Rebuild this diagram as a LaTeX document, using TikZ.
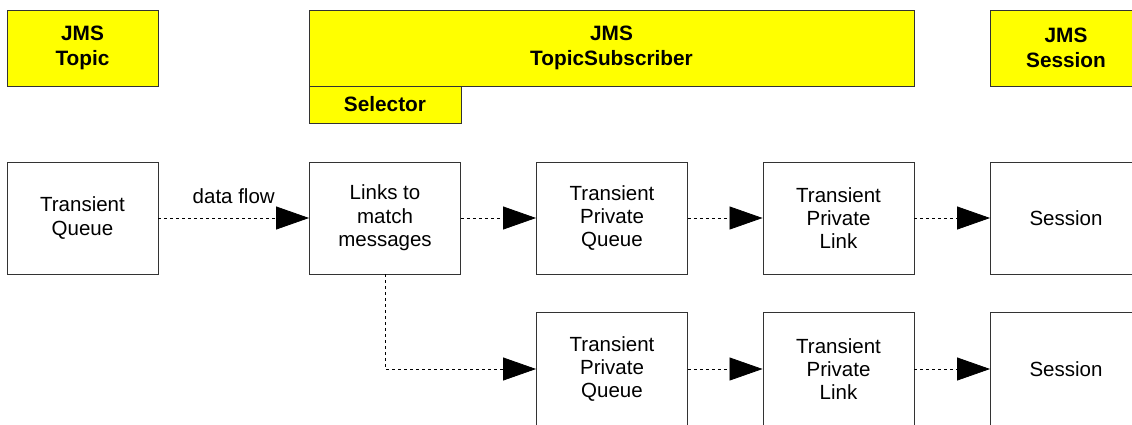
\documentclass[tikz,border=0pt]{standalone}
\usepackage{fontspec}
\setmainfont{Liberation Sans}
\usetikzlibrary{arrows.meta}
\definecolor{hdryellow}{HTML}{FFFF00}
\definecolor{edge}{HTML}{333333}
\tikzset{
  box/.style={draw=edge, line width=0.9pt, fill=white, minimum width=151pt, minimum height=112pt,
    inner sep=0pt, align=center, font=\fontsize{20.5}{23.4}\selectfont},
  hdr/.style={draw=edge, line width=0.9pt, fill=hdryellow, minimum height=76pt,
    inner sep=0pt, align=center, font=\fontsize{20.8}{25}\selectfont\bfseries},
  flow/.style={draw=black, line width=0.8pt, dash pattern=on 3pt off 3pt,
    -{Triangle[length=33pt, width=23pt]}}
}
\begin{document}
\begin{tikzpicture}[x=1pt, y=-1pt]
\useasboundingbox (0,0) rectangle (1132,424);
\clip (0,0) rectangle (1132,424);

% header bars
\node[hdr, minimum width=151pt] (hTopic) at (82.5,48) {JMS\\Topic};
\node[hdr, minimum width=605pt] (hSub) at (611.5,48) {JMS\\TopicSubscriber};
\node[hdr, minimum width=152pt, minimum height=37pt] (hSel) at (385,104.5) {Selector};
\node[hdr, minimum width=152pt] (hSess) at (1066,48) {JMS\\Session};

% first row
\node[box] (tq) at (82.5,218) {Transient\\Queue};
\node[box] (links) at (385,218) {Links to\\match\\messages};
\node[box] (tpq1) at (612,218) {Transient\\Private\\Queue};
\node[box] (tpl1) at (838.5,218) {Transient\\Private\\Link};
\node[box] (s1) at (1066,218) {Session};

% second row, running past the lower edge
\node[box, minimum height=114pt] (tpq2) at (612,369) {Transient\\Private\\Queue};
\node[box, minimum height=114pt] (tpl2) at (838.5,369) {Transient\\Private\\Link};
\node[box, minimum height=114pt] (s2) at (1066,369) {Session};

% data flow
\draw[flow] (tq) -- node[above=11pt, font=\fontsize{20.5}{23.4}\selectfont] (lbl) {data flow} (links);
\draw[flow] (links) -- (tpq1);
\draw[flow] (tpq1) -- (tpl1);
\draw[flow] (tpl1) -- (s1);
\draw[flow] (links.south) |- (tpq2.west);
\draw[flow] (tpq2) -- (tpl2);
\draw[flow] (tpl2) -- (s2);
\end{tikzpicture}
\end{document}
